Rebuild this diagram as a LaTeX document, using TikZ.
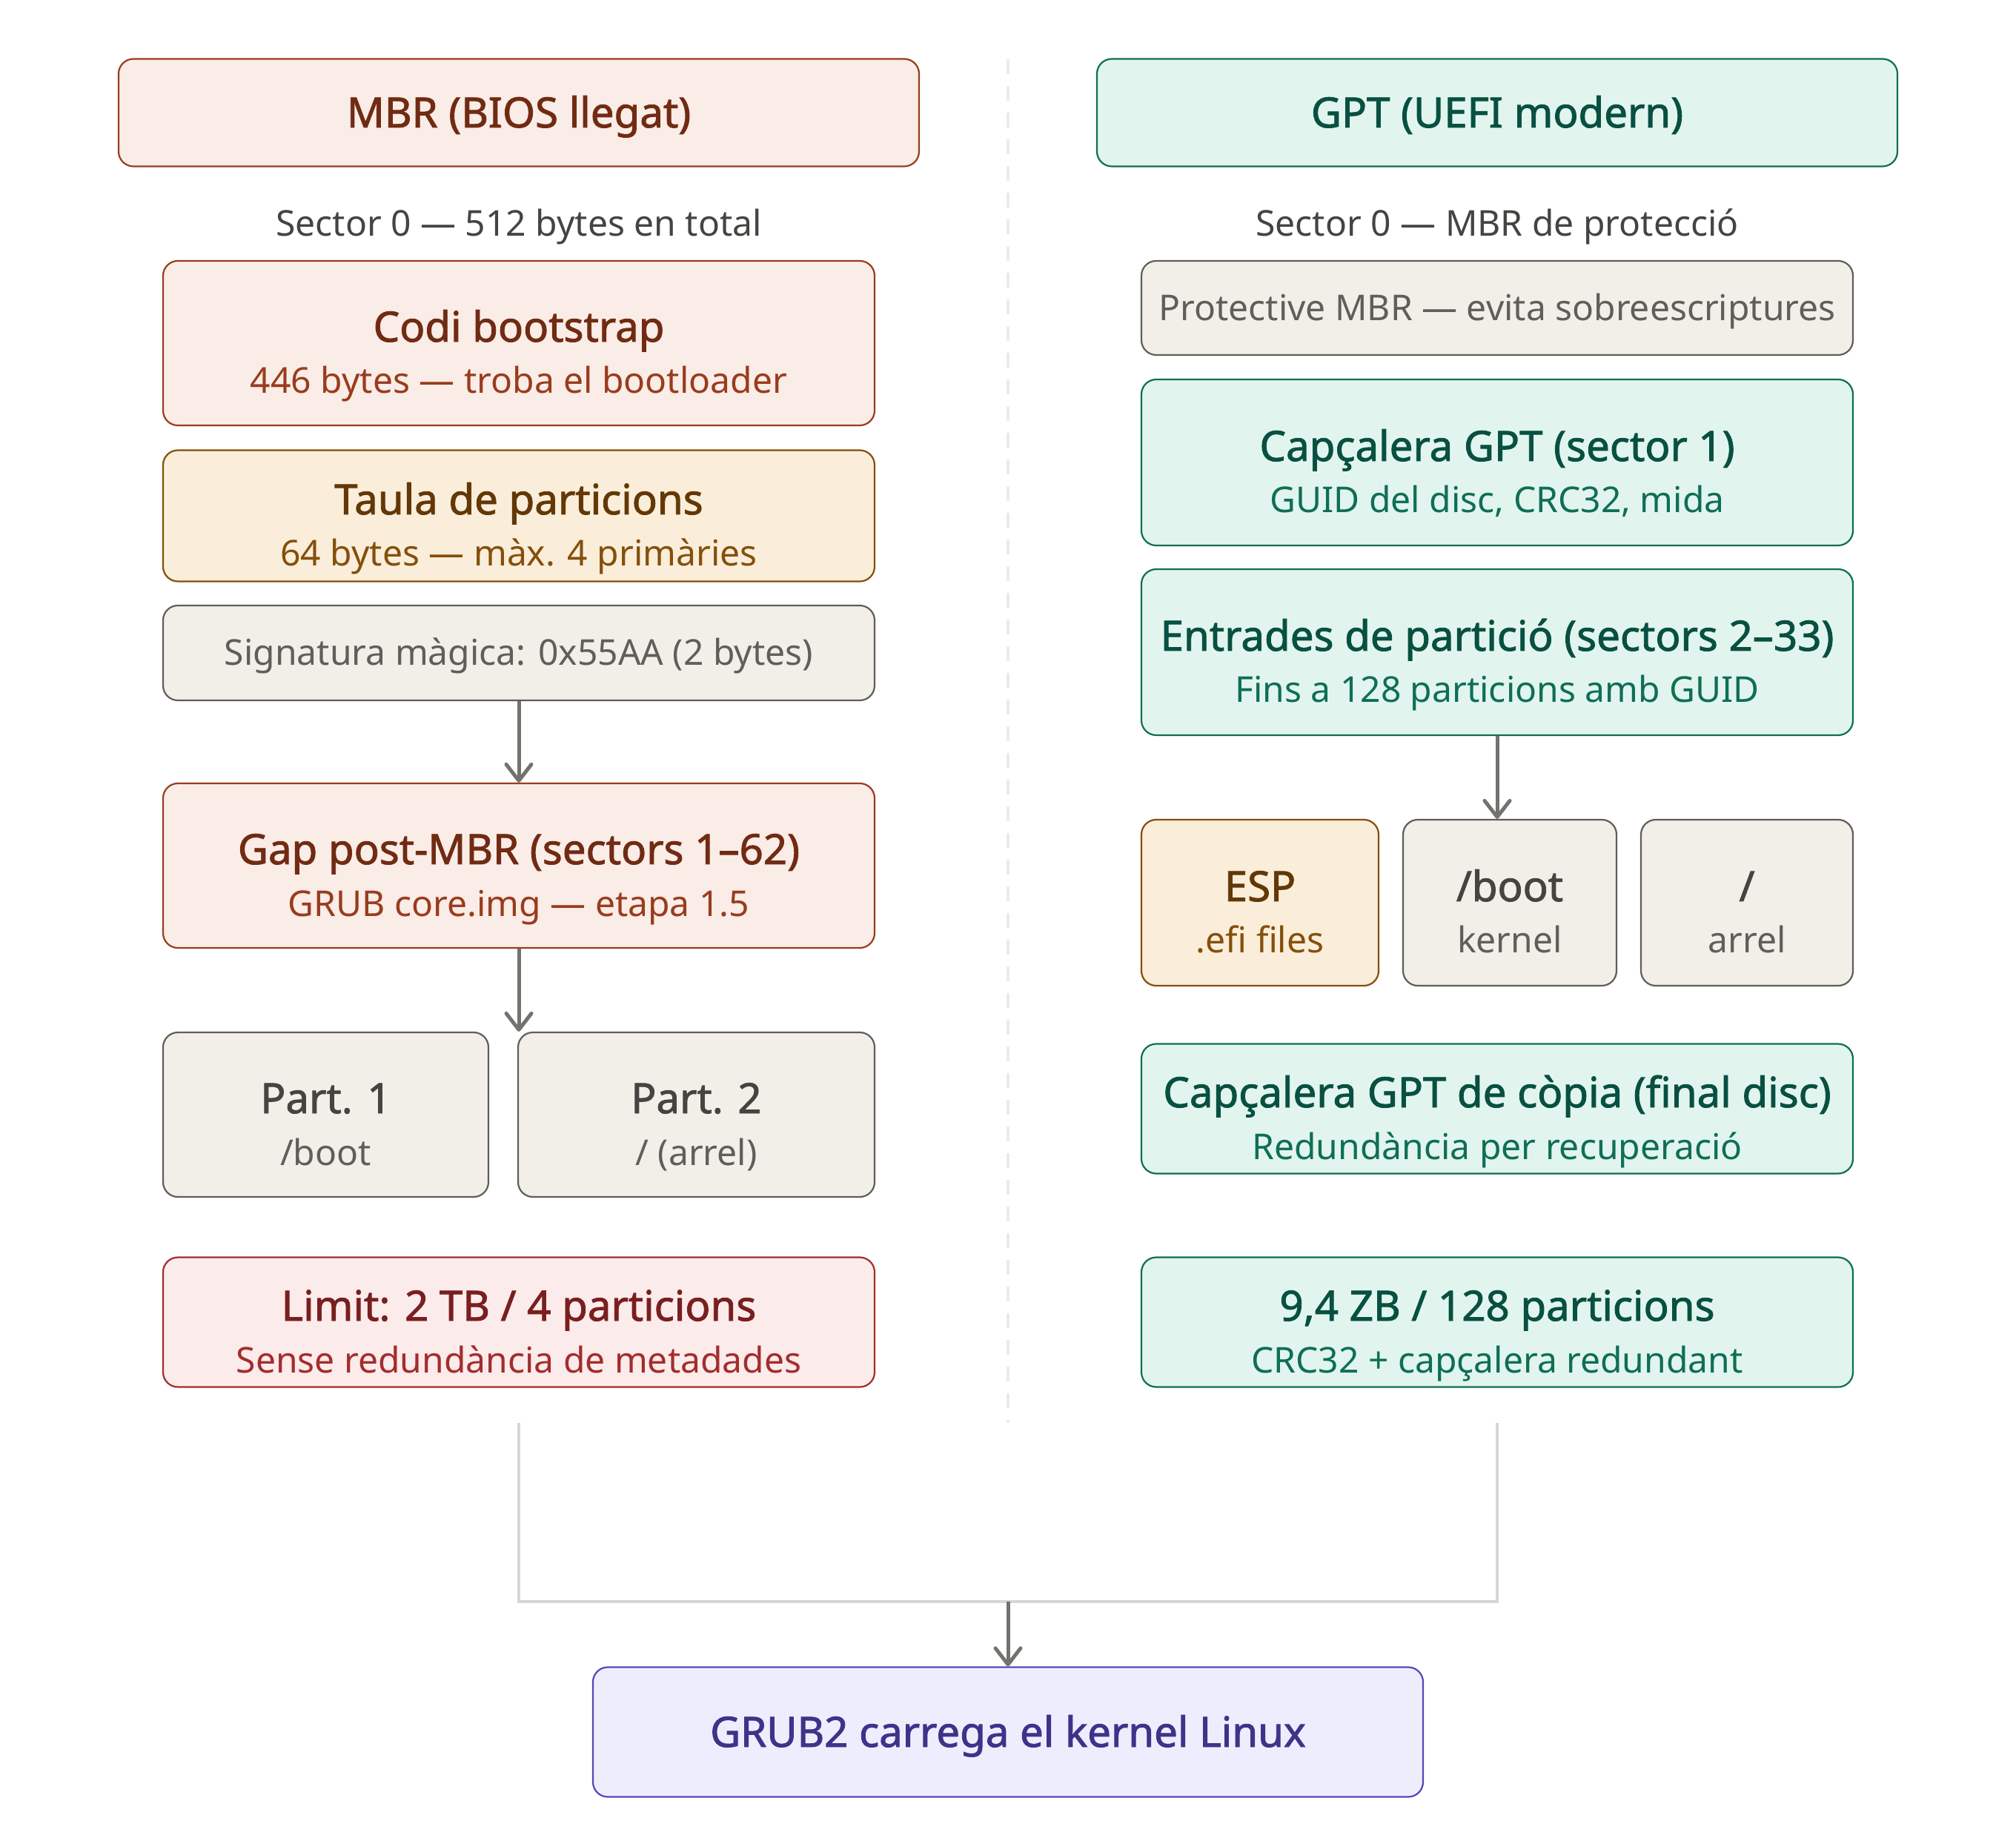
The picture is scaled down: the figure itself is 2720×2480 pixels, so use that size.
\documentclass[tikz,border=0pt]{standalone}
\usepackage{fontspec}
\setmainfont{Noto Sans}
\newfontfamily\semib[FakeBold=1.6]{Noto Sans}
\usetikzlibrary{arrows.meta}
\definecolor{coralF}{HTML}{FAECE7}\definecolor{coralD}{HTML}{993C1D}\definecolor{coralT}{HTML}{712B13}
\definecolor{amberF}{HTML}{FAEEDA}\definecolor{amberD}{HTML}{854F0B}\definecolor{amberT}{HTML}{633806}
\definecolor{grayF}{HTML}{F1EFE8}\definecolor{grayD}{HTML}{5F5E5A}\definecolor{grayT}{HTML}{444441}
\definecolor{tealF}{HTML}{E1F5EE}\definecolor{tealD}{HTML}{0F6E56}\definecolor{tealT}{HTML}{085041}
\definecolor{redF}{HTML}{FCEBEB}\definecolor{redD}{HTML}{A32D2D}\definecolor{redT}{HTML}{791F1F}
\definecolor{purF}{HTML}{EEEDFE}\definecolor{purD}{HTML}{534AB7}\definecolor{purT}{HTML}{3C3489}
\definecolor{arrowC}{HTML}{73726C}
\definecolor{lineC}{HTML}{D6D6D6}
\definecolor{sepC}{HTML}{EBEBEB}
\tikzset{
  box/.style={rectangle, rounded corners=5pt, line width=0.55pt, inner sep=0pt},
  ttl/.style={font=\fontsize{14.1pt}{17pt}\selectfont\semib, inner sep=0pt, anchor=base},
  subt/.style={font=\fontsize{12pt}{14pt}\selectfont, inner sep=0pt, anchor=base},
  flow/.style={draw=arrowC, line width=1.25pt, -{Straight Barb[length=5.5pt,width=8.5pt,line cap=round,line join=round]}},
  joinline/.style={draw=lineC, line width=1.2pt},
  sep/.style={draw=sepC, line width=1pt, dash pattern=on 5pt off 4pt},
}
% name, cx, cy, w, h, palette, title, sub
\newcommand{\boxtwo}[8]{%
  \node[box, fill=#6F, draw=#6D, minimum width=#4*0.25pt, minimum height=#5*0.25pt] (#1) at (#2,#3) {};
  \node[ttl, text=#6T] (#1-t) at (#2,#3-2) {#7};
  \node[subt, text=#6D] (#1-s) at (#2,#3+68) {#8};
}
% name, cx, cy, w, h, palette, text, textstyle, baseline offset
\newcommand{\boxone}[9]{%
  \node[box, fill=#6F, draw=#6D, minimum width=#4*0.25pt, minimum height=#5*0.25pt] (#1) at (#2,#3) {};
  \node[#8] (#1-t) at (#2,#3+#9) {#7};
}
\begin{document}
\begin{tikzpicture}[x=0.25pt, y=-0.25pt]
\useasboundingbox[fill=white] (0,0) rectangle (2720,2480);

% separator
\coordinate (septop) at (1360,80);
\coordinate (sepbot) at (1360,1920);
\draw[sep] (septop) -- (sepbot);

% ---- left column: MBR
\boxone{hdrL}{700}{152}{1080}{145}{coral}{MBR (BIOS llegat)}{ttl, text=coralT}{20}
\node[subt, text=grayT] (secL) at (700,319) {Sector 0 — 512 bytes en total};
\boxtwo{codi}{700}{463}{960}{222}{coral}{Codi bootstrap}{446 bytes — troba el bootloader}
\boxtwo{taula}{700}{696}{960}{177}{amber}{Taula de particions}{64 bytes — màx. 4 primàries}
\boxone{sig}{700}{881}{960}{128}{gray}{Signatura màgica: 0x55AA (2 bytes)}{subt, text=grayD}{17}
\boxtwo{gap}{700}{1168}{960}{222}{coral}{Gap post-MBR (sectors 1–62)}{GRUB core.img — etapa 1.5}
\boxtwo{p1}{439.5}{1504}{439}{222}{gray}{Part. 1}{/boot}
\boxtwo{p2}{939.5}{1504}{481}{222}{gray}{Part. 2}{/ (arrel)}
\boxtwo{limit}{700}{1784}{960}{175}{red}{Limit: 2 TB / 4 particions}{Sense redundància de metadades}

% ---- right column: GPT
\boxone{hdrR}{2020}{152}{1080}{145}{teal}{GPT (UEFI modern)}{ttl, text=tealT}{20}
\node[subt, text=grayT] (secR) at (2020,319) {Sector 0 — MBR de protecció};
\boxone{prot}{2020}{415.5}{960}{127}{gray}{Protective MBR — evita sobreescriptures}{subt, text=grayD}{17}
\boxtwo{caph}{2020}{624}{960}{224}{teal}{Capçalera GPT (sector 1)}{GUID del disc, CRC32, mida}
\boxtwo{entr}{2020}{880}{960}{224}{teal}{Entrades de partició (sectors 2–33)}{Fins a 128 particions amb GUID}
\boxtwo{esp}{1700}{1218}{320}{224}{amber}{ESP}{.efi files}
\boxtwo{boot}{2037}{1218}{288}{224}{gray}{/boot}{kernel}
\boxtwo{root}{2357}{1218}{286}{224}{gray}{/}{arrel}
\boxtwo{copy}{2020}{1496}{960}{175}{teal}{Capçalera GPT de còpia (final disc)}{Redundància per recuperació}
\boxtwo{zb}{2020}{1784}{960}{175}{teal}{9,4 ZB / 128 particions}{CRC32 + capçalera redundant}

% ---- bottom
\boxone{grub}{1360}{2337}{1120}{175}{pur}{GRUB2 carrega el kernel Linux}{ttl, text=purT}{20}

% arrows
\draw[flow] (sig.south) -- (gap.north);
\draw[flow] (gap.south) -- (gap.south |- p2.north);
\draw[flow] (entr.south) -- (entr.south |- boot.north);

% joining lines
\coordinate (jl) at (700,1920);
\coordinate (jr) at (2020,1920);
\coordinate (jm) at (1360,2161);
\draw[joinline] (jl) |- (jm) -| (jr);
\draw[flow] (jm) -- (grub.north);
\end{tikzpicture}
\end{document}
